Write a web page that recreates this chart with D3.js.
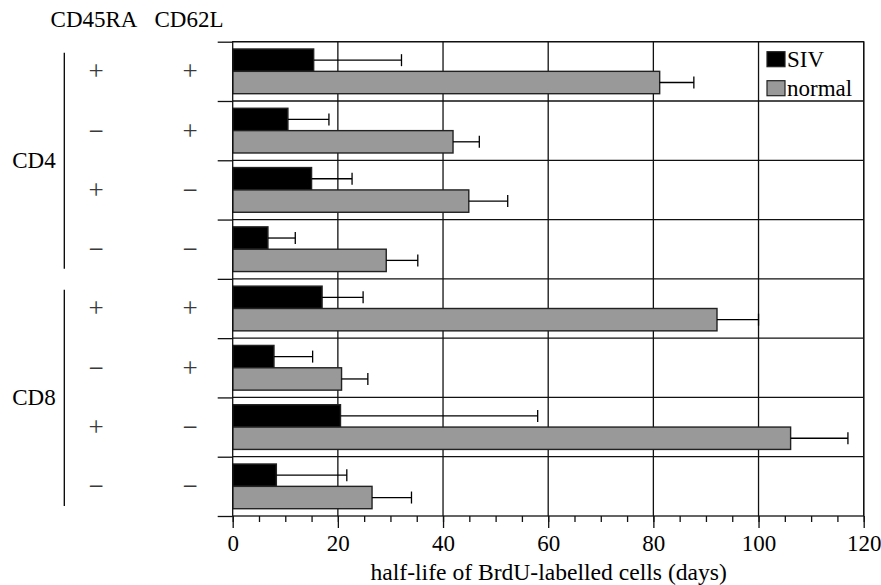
<!DOCTYPE html>
<html>
<head>
<meta charset="utf-8">
<script src="https://cdn.jsdelivr.net/npm/d3@7"></script>
<style>
  html, body { margin: 0; padding: 0; background: #fff; }
  svg { display: block; }
</style>
</head>
<body>
<svg id="chart" width="881" height="585"></svg>
<script>
// ---- data ----
const groups   = ["CD4 ++", "CD4 -+", "CD4 +-", "CD4 --", "CD8 ++", "CD8 -+", "CD8 +-", "CD8 --"];
const cd45ra   = ["+", "\u2212", "+", "\u2212", "+", "\u2212", "+", "\u2212"];
const cd62l    = ["+", "+", "\u2212", "\u2212", "+", "+", "\u2212", "\u2212"];
const subsets  = ["CD4", "CD8"];
const series   = ["SIV", "normal"];
const sivValues    = [15.4, 10.5, 15.0, 6.7, 17.0, 7.85, 20.5, 8.3];
const sivErrors    = [16.7, 7.8, 7.7, 5.2, 7.8, 7.35, 37.5, 13.4];
const normalValues = [81.2, 41.9, 44.9, 29.2, 92.1, 20.7, 106.1, 26.5];
const normalErrors = [6.5, 5.0, 7.4, 6.0, 7.9, 5.0, 10.9, 7.5];
const xTicks = [0, 20, 40, 60, 80, 100, 120];
const xTitle = "half-life of BrdU-labelled cells (days)";
const colHeaders = ["CD45RA", "CD62L"];

const FONT = "'Liberation Serif', Tinos, 'Nimbus Roman', 'Times New Roman', Times, 'DejaVu Serif', serif";
const svg = d3.select("#chart").attr("font-family", FONT);
const L = 232.7, R = 863.7, T = 41.7, B = 516;
const FS = 23;

const x = d3.scaleLinear().domain([0, 120]).range([L, R]);
const y0 = d3.scaleBand().domain(groups).range([T, B]).paddingInner(0).paddingOuter(0);
const y1 = d3.scaleBand().domain(series).range([0, y0.bandwidth()]).paddingInner(0).paddingOuter(0.326);
const yIdx = d3.scaleLinear().domain([0, groups.length]).range([T, B]);
const color = d3.scaleOrdinal().domain(series).range(["#000000", "#999999"]);

const rows = groups.map((g, i) => ({
  g, i,
  bars: [
    { s: "SIV", v: sivValues[i], e: sivErrors[i] },
    { s: "normal", v: normalValues[i], e: normalErrors[i] }
  ]
}));

function txt(sel) {
  return sel.style("font-family", FONT).style("fill", "#000");
}

// ---- grid ----
const grid = svg.append("g").attr("stroke", "#111").attr("stroke-width", 1.3);
grid.selectAll("line.v").data(xTicks.slice(1)).join("line")
  .attr("x1", d => x(d)).attr("x2", d => x(d)).attr("y1", T).attr("y2", B);
grid.selectAll("line.h").data(d3.range(0, groups.length)).join("line")
  .attr("x1", L).attr("x2", R).attr("y1", d => yIdx(d)).attr("y2", d => yIdx(d));

// ---- bars ----
const gRows = svg.append("g").selectAll("g").data(rows).join("g")
  .attr("transform", d => `translate(0,${y0(d.g)})`);
gRows.selectAll("rect").data(d => d.bars).join("rect")
  .attr("x", x(0))
  .attr("y", d => y1(d.s))
  .attr("width", d => x(d.v) - x(0))
  .attr("height", y1.bandwidth())
  .attr("fill", d => color(d.s))
  .attr("stroke", "#222")
  .attr("stroke-width", 1.4);

// ---- error bars ----
const eb = gRows.selectAll("g.err").data(d => d.bars).join("g").attr("class", "err")
  .attr("stroke", "#000").attr("stroke-width", 1.3);
eb.append("line")
  .attr("x1", d => x(d.v)).attr("x2", d => x(d.v + d.e))
  .attr("y1", d => y1(d.s) + y1.bandwidth() / 2).attr("y2", d => y1(d.s) + y1.bandwidth() / 2);
eb.append("line")
  .attr("x1", d => x(d.v + d.e)).attr("x2", d => x(d.v + d.e))
  .attr("y1", d => y1(d.s) + y1.bandwidth() / 2 - 6).attr("y2", d => y1(d.s) + y1.bandwidth() / 2 + 6);

// ---- axes ----
const minorAxis = d3.axisBottom(x).tickValues(d3.range(0, 121, 5)).tickSize(6).tickFormat("");
const gMinor = svg.append("g").attr("transform", `translate(0,${B})`).call(minorAxis);
gMinor.select(".domain").remove();
const majorAxis = d3.axisBottom(x).tickValues(xTicks).tickSize(12).tickPadding(6.5).tickFormat(d3.format("d"));
const gMajor = svg.append("g").attr("transform", `translate(0,${B})`).call(majorAxis);
gMajor.select(".domain").remove();
gMajor.attr("font-family", FONT).attr("font-size", FS);
[gMinor, gMajor].forEach(g => g.selectAll("line").attr("stroke", "#111").attr("stroke-width", 1.3));
txt(gMajor.selectAll("text")).style("font-size", FS + "px");

const leftAxis = d3.axisLeft(yIdx).tickValues(d3.range(0, groups.length + 1)).tickSize(15).tickFormat("");
const gLeft = svg.append("g").attr("transform", `translate(${L},0)`).call(leftAxis);
gLeft.select(".domain").remove();
gLeft.selectAll("line").attr("stroke", "#111").attr("stroke-width", 1.3);

// frame
svg.append("rect").attr("x", L).attr("y", T).attr("width", R - L).attr("height", B - T)
  .attr("fill", "none").attr("stroke", "#111").attr("stroke-width", 1.3);

// ---- x title ----
txt(svg.append("text").attr("x", 548.7).attr("y", 580).attr("text-anchor", "middle"))
  .style("font-size", "23.6px").text(xTitle);

// ---- column headers ----
txt(svg.append("text").attr("x", 94).attr("y", 27).attr("text-anchor", "middle"))
  .style("font-size", FS + "px").text(colHeaders[0]);
txt(svg.append("text").attr("x", 189).attr("y", 27).attr("text-anchor", "middle"))
  .style("font-size", FS + "px").text(colHeaders[1]);

// ---- +/- markers ----
const marks = svg.append("g");
txt(marks.selectAll("text.a").data(rows).join("text")
  .attr("x", 96).attr("y", d => y0(d.g) + y0.bandwidth() / 2 + 9)
  .attr("text-anchor", "middle"))
  .style("fill", "#3a3a3a").style("font-size", "27px")
  .text(d => cd45ra[d.i]);
txt(marks.selectAll("text.b").data(rows).join("text")
  .attr("x", 190).attr("y", d => y0(d.g) + y0.bandwidth() / 2 + 9)
  .attr("text-anchor", "middle"))
  .style("fill", "#3a3a3a").style("font-size", "27px")
  .text(d => cd62l[d.i]);

// ---- subset brackets ----
subsets.forEach((s) => {
  const idx = groups.map((g, i) => i).filter(i => groups[i].startsWith(s));
  const top = yIdx(d3.min(idx)) + 11, bot = yIdx(d3.max(idx) + 1) - 10;
  svg.append("line").attr("x1", 64.3).attr("x2", 64.3).attr("y1", top).attr("y2", bot)
    .attr("stroke", "#000").attr("stroke-width", 1.3);
  txt(svg.append("text").attr("x", 34).attr("y", (yIdx(d3.min(idx)) + yIdx(d3.max(idx) + 1)) / 2 + 8)
    .attr("text-anchor", "middle")).style("font-size", FS + "px").text(s);
});

// ---- legend ----
const leg = svg.append("g").attr("transform", "translate(767,0)");
series.forEach((s, k) => {
  const yy = 51.7 + k * 29;
  leg.append("rect").attr("x", 0).attr("y", yy).attr("width", 18).attr("height", 15)
    .attr("fill", color(s)).attr("stroke", "#222").attr("stroke-width", 1.2);
  txt(leg.append("text").attr("x", 20).attr("y", yy + 15)).style("font-size", FS + "px").text(s);
});
</script>
</body>
</html>
